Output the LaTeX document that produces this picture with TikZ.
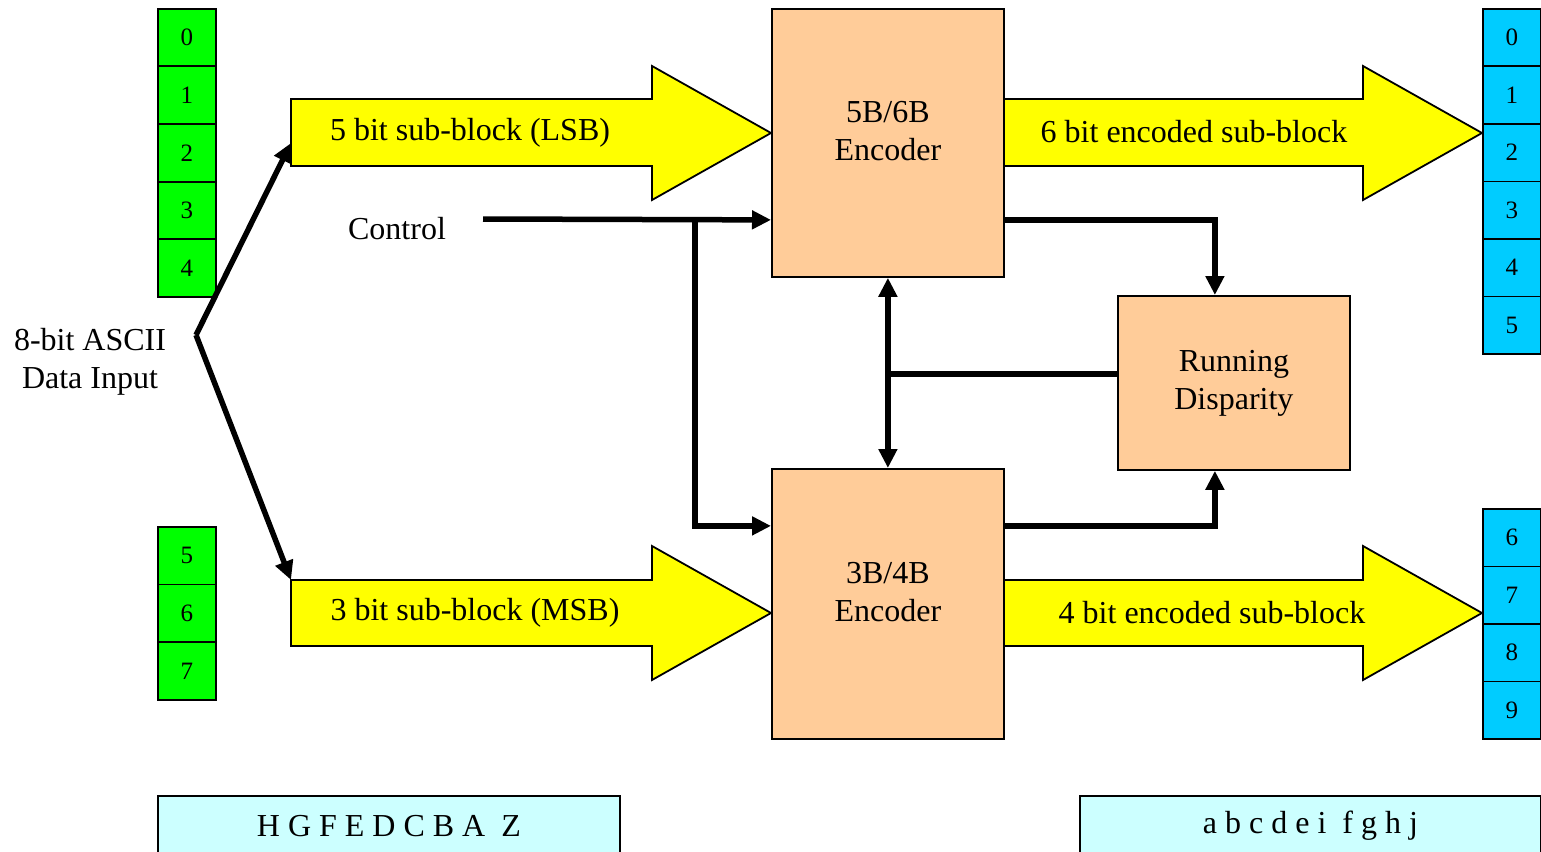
\documentclass[tikz,border=0pt]{standalone}
\usepackage{fontspec}
\setmainfont{Liberation Serif}
\usetikzlibrary{arrows.meta}

\definecolor{bitgreen}{HTML}{00FF00}
\definecolor{bitblue}{HTML}{00CCFF}
\definecolor{blockyellow}{HTML}{FFFF00}
\definecolor{encpeach}{HTML}{FFCC99}
\definecolor{codecyan}{HTML}{CCFFFF}

\tikzset{
  bitcell/.style={draw=black, line width=1.8pt, minimum width=58pt, minimum height=57.5pt,
    inner sep=0pt, anchor=north west, font=\fontsize{25}{25}\selectfont},
  encbox/.style={draw=black, line width=1.8pt, fill=encpeach, inner sep=0pt, anchor=north west},
  codebox/.style={draw=black, line width=1.8pt, fill=codecyan, inner sep=0pt, anchor=north west,
    minimum height=60pt, font=\fontsize{32}{32}\selectfont},
  bigtext/.style={font=\fontsize{32}{38}\selectfont, align=center, inner sep=0pt},
  blockarrow/.style={draw=black, line width=1.8pt, fill=blockyellow, line join=miter},
  conn/.style={line width=5.5pt, line join=miter, -{Triangle[length=19pt,width=18pt]}},
  plainconn/.style={line width=5.5pt, line join=miter},
}

\begin{document}
\begin{tikzpicture}[x=1pt,y=-1pt]
\useasboundingbox (0,0) rectangle (1541,851);

% input bit columns
\foreach \i in {0,...,4} {
  \node[bitcell, fill=bitgreen] (in\i) at (157,{8+57.6*\i}) {\i};
}
\foreach \i in {5,6,7} {
  \node[bitcell, fill=bitgreen] (in\i) at (157,{526+57.6*(\i-5)}) {\i};
}
% output bit columns
\foreach \i in {0,...,5} {
  \node[bitcell, fill=bitblue] (out\i) at (1482,{8+57.5*\i}) {\i};
}
\foreach \i in {6,...,9} {
  \node[bitcell, fill=bitblue] (out\i) at (1482,{508+57.5*(\i-6)}) {\i};
}

% yellow sub-block arrows
\draw[blockarrow] (291,99) -- (652,99) -- (652,66) -- (771,133) -- (652,200) -- (652,166) -- (291,166) -- cycle;
\node[bigtext] (lsb) at (470,133) {5 bit sub-block (LSB)};
\draw[blockarrow] (291,580) -- (652,580) -- (652,546) -- (771,613) -- (652,680) -- (652,646) -- (291,646) -- cycle;
\node[bigtext] (msb) at (475,613) {3 bit sub-block (MSB)};
\draw[blockarrow] (1003,99) -- (1363,99) -- (1363,66) -- (1482,133) -- (1363,200) -- (1363,166) -- (1003,166) -- cycle;
\node[bigtext] (six) at (1194,132) {6 bit encoded sub-block};
\draw[blockarrow] (1003,580) -- (1363,580) -- (1363,546) -- (1482,613) -- (1363,680) -- (1363,646) -- (1003,646) -- cycle;
\node[bigtext] (four) at (1212,613) {4 bit encoded sub-block};

% encoders and running disparity
\node[encbox, minimum width=232pt, minimum height=268pt] (e56) at (771,8) {};
\node[bigtext] (e56t) at ([yshift=12pt]e56.center) {5B/6B\\Encoder};
\node[encbox, minimum width=232pt, minimum height=270pt] (e34) at (771,468) {};
\node[bigtext] (e34t) at ([yshift=12pt]e34.center) {3B/4B\\Encoder};
\node[encbox, minimum width=232pt, minimum height=174pt] (rd) at (1117,295) {};
\node[bigtext] (rdt) at (rd.center) {Running\\Disparity};

% input label and split arrows
\node[bigtext] (ascii) at (90,362) {8-bit ASCII\\Data Input};
\coordinate (fork) at (196,335);
\coordinate (lsbtail) at (291,143);
\coordinate (msbtail) at (291,580);
\draw[conn] (fork) -- (lsbtail);
\draw[conn] (fork) -- (msbtail);

% control
\node[bigtext] (ctrl) at (397,229) {Control};
\coordinate (ctlstart) at (483,219);
\coordinate (split) at (695,219);
\draw[conn] (ctlstart) -- ([yshift=-77pt]e56.west);
\draw[conn] (split) |- ([yshift=78pt]e34.west);

% disparity feedback
\draw[conn] ([yshift=-77pt]e56.east) -| ([xshift=-19pt]rd.north);
\draw[conn] ([yshift=78pt]e34.east) -| ([xshift=-19pt]rd.south);
\draw[conn, {Triangle[length=19pt,width=18pt]}-{Triangle[length=19pt,width=18pt]}] (e56.south) -- (e34.north);
\draw[plainconn] ([yshift=9pt]rd.west) -- ([yshift=9pt]rd.west -| e56.south);

% bit-name boxes
\node[codebox, minimum width=462pt] (upper) at (157,795) {H G F E D C B A\ \ Z};
\node[codebox, minimum width=461pt] (lower) at (1079,795) {a b c d e i\ \ f g h j};
\end{tikzpicture}
\end{document}
